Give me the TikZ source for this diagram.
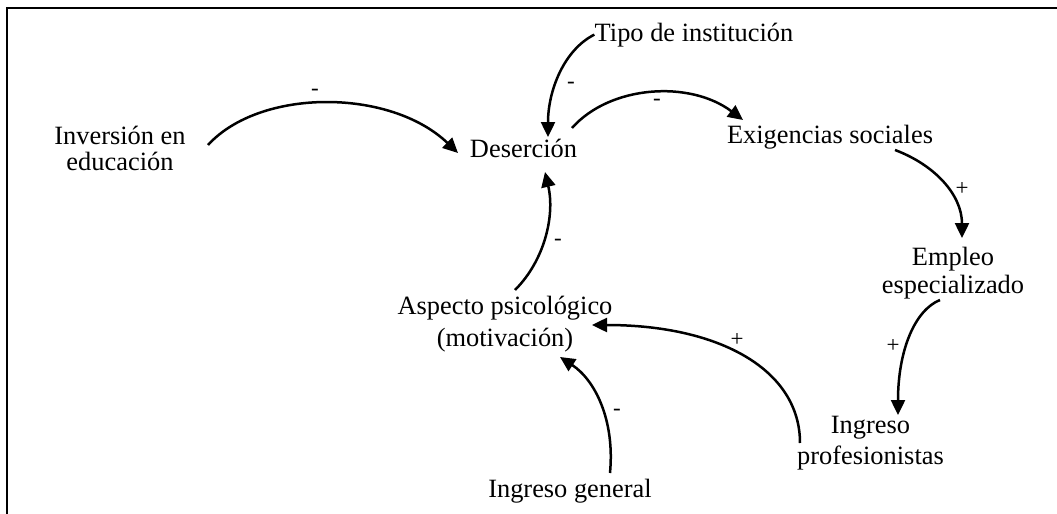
\documentclass[tikz,border=0pt]{standalone}
\usepackage{fontspec}
\setmainfont{Liberation Serif}
\usetikzlibrary{arrows.meta}
\begin{document}
\begin{tikzpicture}[x=0.5pt,y=-0.5pt,
  lbl/.style={inner sep=0pt, anchor=base, align=center},
  sgn/.style={inner sep=0pt, font=\fontsize{11.5}{12}\selectfont},
  link/.style={line width=1.25pt, -{Triangle[length=7.5pt,width=7pt]}},
  frame/.style={line width=1pt}]
\useasboundingbox (0,0) rectangle (1057,514);
\draw[frame] (7,514) -- (7,8) -- (1057,8);

\node[lbl, font=\fontsize{13.2}{13.2}\selectfont] (tipo) at (694,41) {Tipo de institución};
\node[lbl, font=\fontsize{13.2}{13.2}\selectfont] (des) at (523.5,157) {Deserción};
\node[lbl, font=\fontsize{13.2}{13.2}\selectfont] (exi) at (830,143) {Exigencias sociales};
\node[lbl, font=\fontsize{13.2}{13}\selectfont] (inv) at (120,170) {Inversión en\\educación};
\node[lbl, font=\fontsize{13.2}{14}\selectfont] (emp) at (953,293) {Empleo\\especializado};
\node[lbl, font=\fontsize{13.2}{16}\selectfont] (asp) at (505,346) {Aspecto psicológico\\(motivación)};
\node[lbl, font=\fontsize{13.2}{15.5}\selectfont] (ing) at (870.5,464) {Ingreso\\profesionistas};
\node[lbl, font=\fontsize{13.2}{13.2}\selectfont] (gen) at (570,497) {Ingreso general};

\draw[link] (tipo.west) .. controls +(-30,15) and +(0,-47) .. ([shift={(24.5,-20)}]des.base);
\draw[link] ([shift={(48.5,-29)}]des.base) .. controls +(38,-43) and +(-53,-40) .. ([shift={(-87,-23)}]exi.base);
\draw[link] ([shift={(88,-25)}]inv.base) .. controls +(52,-57) and +(-68,-65) .. ([shift={(-65.5,-4)}]des.base);
\draw[link] ([shift={(65,7)}]exi.base) .. controls +(40,15) and +(0,-43) .. ([shift={(9,-55)}]emp.base);
\draw[link] ([shift={(-13,7)}]emp.base) .. controls +(-25,10) and +(0,-65) .. ([shift={(27.5,-49)}]ing.base);
\draw[link] ([shift={(-70.5,-21)}]ing.base) .. controls +(0,-73) and +(128,0) .. ([shift={(87,-21)}]asp.base);
\draw[link] ([shift={(40,-24)}]gen.base) .. controls +(5,-53) and +(35,23) .. ([shift={(55,11)}]asp.base);
\draw[link] ([shift={(10,-56)}]asp.base) .. controls +(30,-30) and +(10,43) .. ([shift={(21.5,15)}]des.base);

\node[sgn] (s1) at (571,85) {-};
\node[sgn] (s2) at (657,102) {-};
\node[sgn] (s3) at (315,92) {-};
\node[sgn] (s4) at (962,189) {+};
\node[sgn] (s5) at (893,346) {+};
\node[sgn] (s6) at (737,340) {+};
\node[sgn] (s7) at (617,412) {-};
\node[sgn] (s8) at (558,242) {-};
\end{tikzpicture}
\end{document}
